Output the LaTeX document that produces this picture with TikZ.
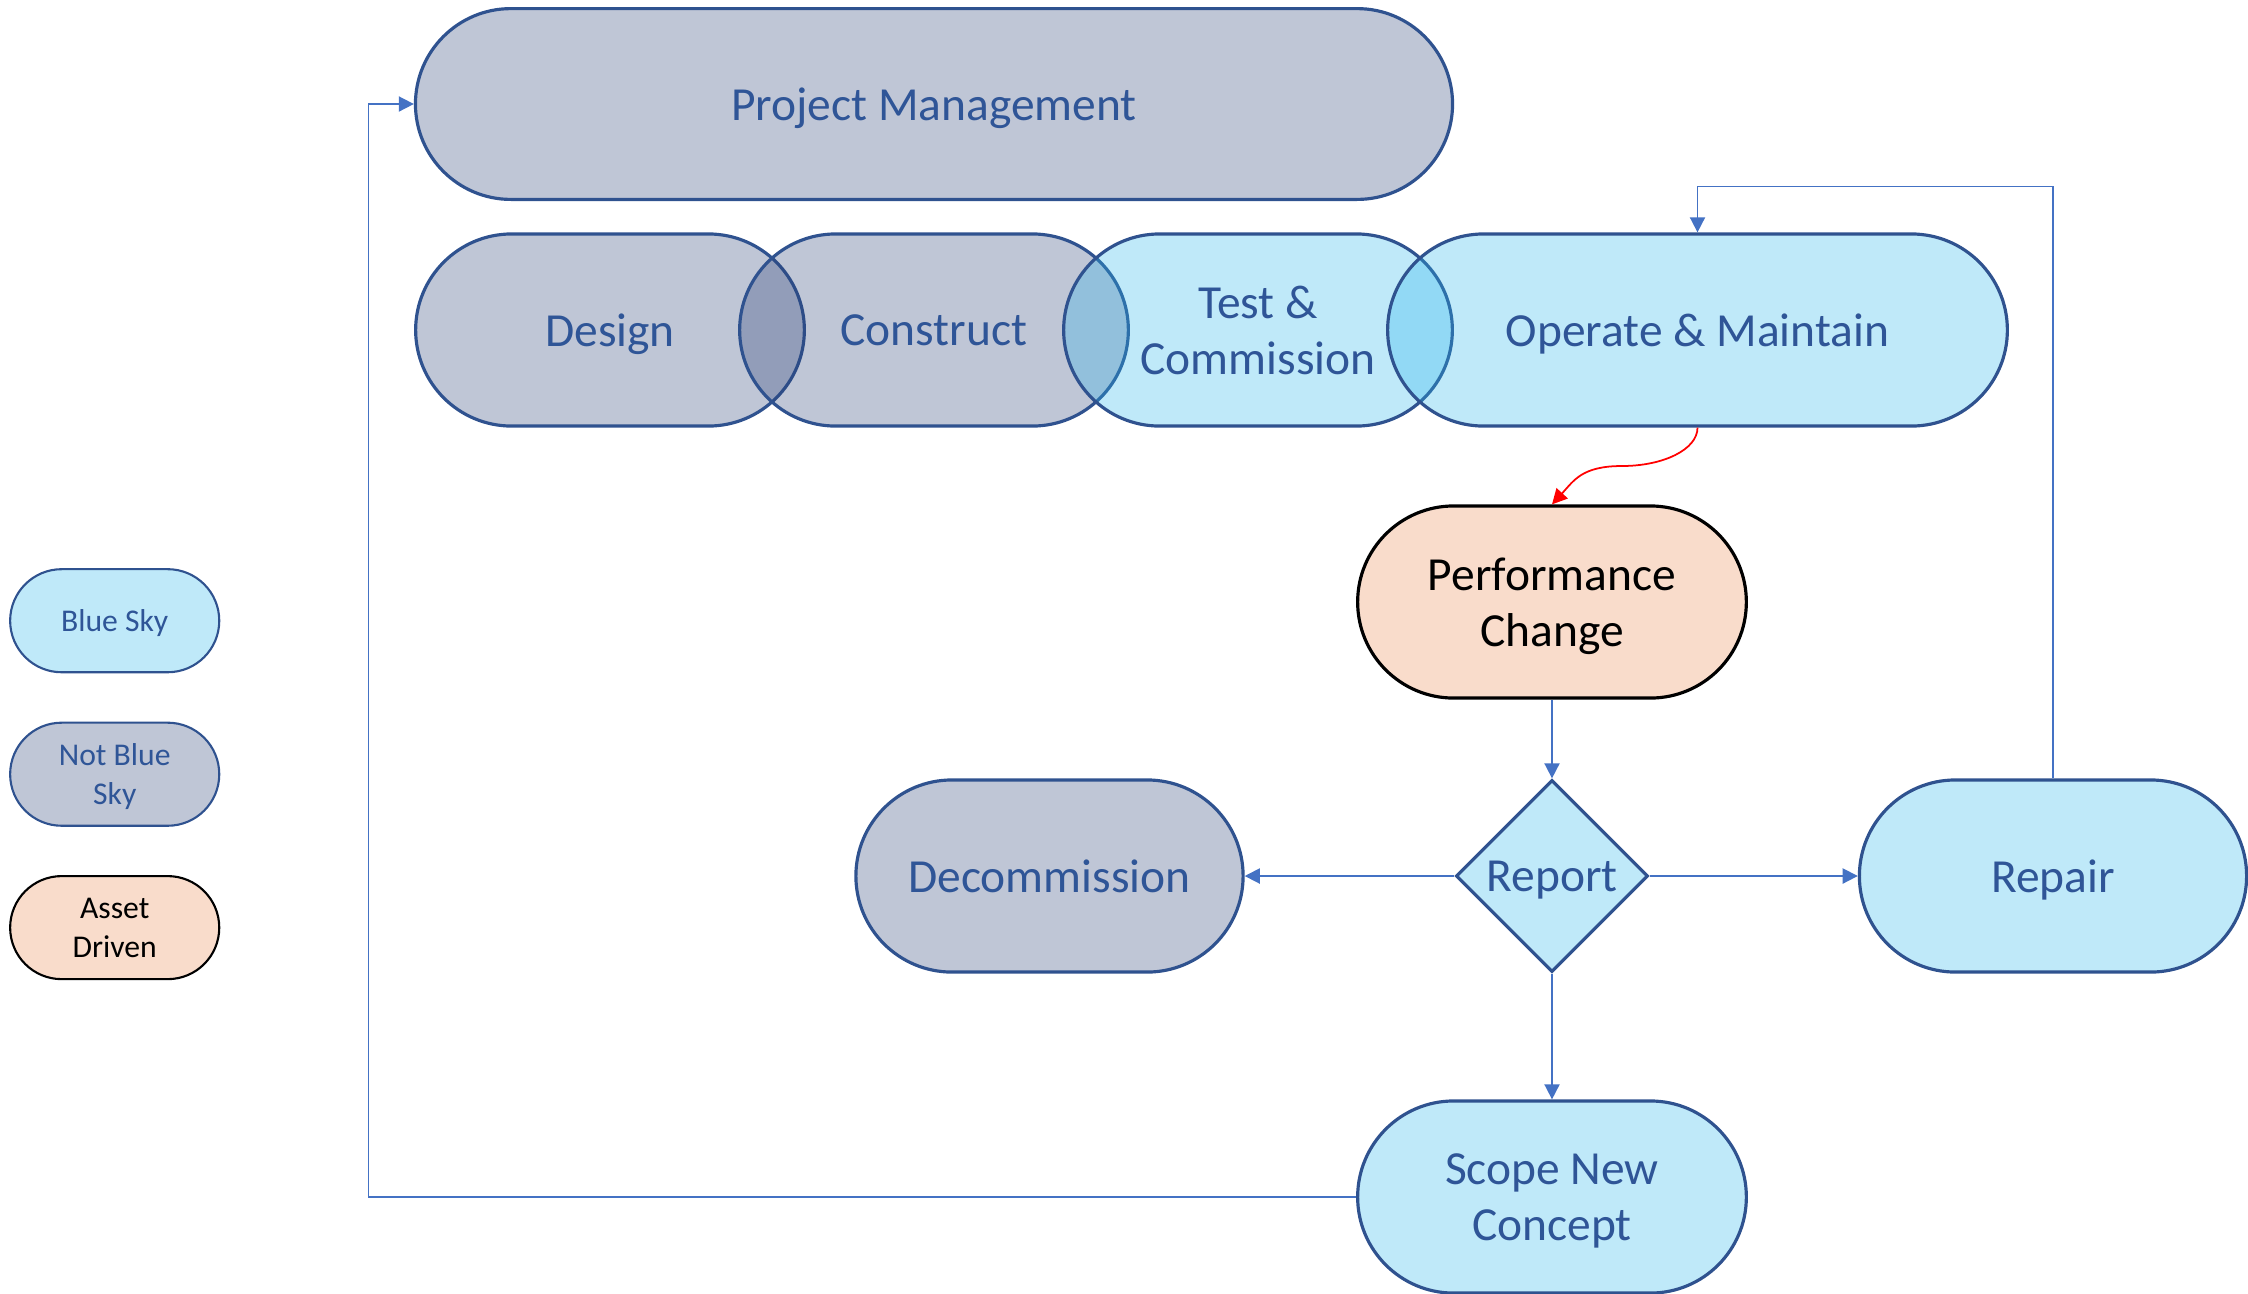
\documentclass[tikz,border=0pt]{standalone}
\usepackage{fontspec}
\setmainfont{Carlito}
\usepackage{tikz}
\usetikzlibrary{arrows.meta,positioning,calc,shapes.misc,shapes.geometric}
\definecolor{skybase}{RGB}{42,182,235}
\definecolor{greybase}{RGB}{42,65,118}
\definecolor{peach}{RGB}{249,220,203}
\definecolor{edgeblue}{RGB}{47,82,143}
\definecolor{textblue}{RGB}{47,85,151}
\definecolor{linkblue}{RGB}{68,114,196}
\tikzstyle{phase}=[rounded rectangle,draw=edgeblue,line width=0.9pt,text=textblue,minimum height=1.92cm,inner sep=0pt,text depth=0pt,align=center,font=\fontsize{13.5pt}{16pt}\selectfont,fill opacity=0.3,text opacity=1]
\tikzstyle{skyphase}=[phase,fill=skybase]
\tikzstyle{greyphase}=[phase,fill=greybase]
\tikzstyle{assetphase}=[phase,fill=peach,fill opacity=1,draw=black,text=black]
\tikzstyle{key}=[minimum width=2.09cm,minimum height=1.03cm,line width=0.6pt,font=\fontsize{9pt}{11pt}\selectfont]
\tikzstyle{link}=[draw=linkblue,line width=0.5pt,-{Triangle[length=4.3pt,width=4.3pt]}]

\begin{document}
\begin{tikzpicture}[x=0.01cm,y=-0.01cm]
\useasboundingbox (0,0) rectangle (2248,1293);
% lifecycle
\node [greyphase, minimum width=10.365cm, minimum height=1.907cm] (pm) at (934,104) {Project Management};
\node [greyphase, minimum width=3.885cm] (design) at (610,330) {Design};
\node [greyphase, minimum width=3.885cm] (construct) at (934,330) {Construct};
\node [skyphase, minimum width=3.885cm] (test) at (1258,330) {Test \&\\Commission};
\node [skyphase, minimum width=6.194cm] (operate) at (1697.5,330) {Operate \& Maintain};
% asset decisions
\node [assetphase, minimum width=3.885cm] (perf) at (1552,602) {Performance\\Change};
\node [diamond, aspect=1, draw=edgeblue, line width=0.9pt, fill=skybase, fill opacity=0.3, text opacity=1, text=textblue,
  minimum width=1.92cm, minimum height=1.92cm, inner sep=0pt, text depth=0pt, font=\fontsize{13.5pt}{16pt}\selectfont] (report) at (1552,876) {Report};
\node [greyphase, minimum width=3.87cm] (decom) at (1049.5,876) {Decommission};
\node [skyphase, minimum width=3.87cm] (repair) at (2053,876) {Repair};
\node [skyphase, minimum width=3.885cm] (scope) at (1552,1197) {Scope New\\Concept};
% legend
\node [skyphase, key] (keysky) at (114.7,620.7) {Blue Sky};
\node [greyphase, key] (keygrey) at (114.7,774.2) {Not Blue\\Sky};
\node [assetphase, key] (keyasset) at (114.7,927.6) {Asset\\Driven};
% connectors
\coordinate (loopleft) at (368.5,1197);
\coordinate (looptop) at (2053,186.4);
\coordinate (bend) at (1622,466);
\draw [link] (scope.west) -- (loopleft) |- (pm.west);
\draw [link] (repair.north) -- (looptop) -| (operate.north);
\draw [link, draw=red] (operate.south) .. controls +(0,22) and +(41,0) .. (bend)
  .. controls +(-40,0) and +(22,-24) .. (perf.north);
\draw [link] (perf.south) -- (report.north);
\draw [link] (report.west) -- (decom.east);
\draw [link] (report.east) -- (repair.west);
\draw [link] (report.south) -- (scope.north);
\end{tikzpicture}
\end{document}
